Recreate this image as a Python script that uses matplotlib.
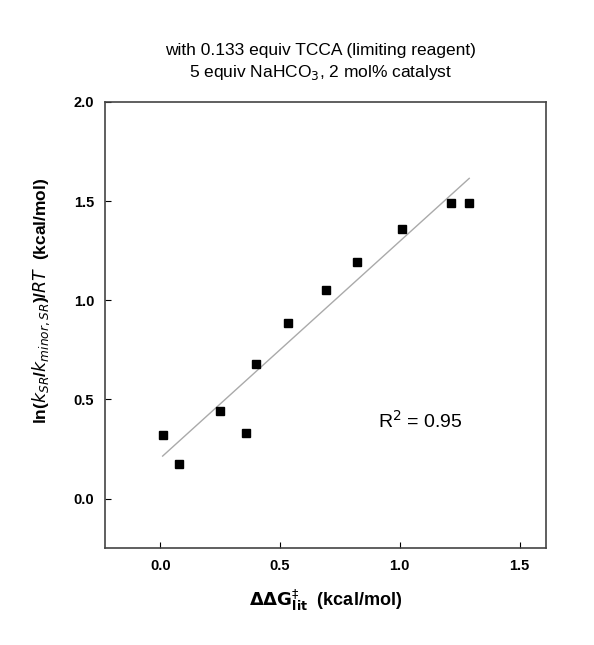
import matplotlib.pyplot as plt
import numpy as np

plt.rcParams['font.family'] = ['Liberation Sans', 'DejaVu Sans']

# data
ddg_lit = [0.01, 0.08, 0.25, 0.36, 0.40, 0.535, 0.69, 0.82, 1.01, 1.215, 1.29]
ln_krel = [0.32, 0.175, 0.44, 0.33, 0.68, 0.885, 1.05, 1.195, 1.36, 1.49, 1.49]
x_ticks = [0.0, 0.5, 1.0, 1.5]
y_ticks = [0.0, 0.5, 1.0, 1.5, 2.0]
r_squared = 0.95

fig = plt.figure(figsize=(5.94, 6.45), dpi=100)
ax = fig.add_axes([0.177, 0.150, 0.742, 0.692])

# linear fit
slope, icpt = np.polyfit(ddg_lit, ln_krel, 1)
xf = np.array([min(ddg_lit), max(ddg_lit)])
ax.plot(xf, slope * xf + icpt + 0.01, color='#aaaaaa', lw=1.0, zorder=1)

ax.plot(ddg_lit, ln_krel, 's', color='black', ms=5.5, zorder=2)

ax.text(0.91, 0.39, 'R$^2$ = %.2f' % r_squared, fontsize=14, va='center')

ax.set_xlim(-0.23, 1.61)
ax.set_ylim(-0.25, 2.0)
ax.set_xticks(x_ticks)
ax.set_xticklabels(['%.1f' % t for t in x_ticks])
ax.set_yticks(y_ticks)
ax.set_yticklabels(['%.1f' % t for t in y_ticks])
ax.tick_params(direction='in', length=4, labelsize=10.5, pad=8)
for lab in ax.get_xticklabels() + ax.get_yticklabels():
    lab.set_fontweight('bold')
for s in ax.spines.values():
    s.set_color('#444444')
    s.set_linewidth(1.2)

ax.set_xlabel(r'$\mathbf{\Delta\Delta} \mathit{\mathbf{G}}^{\ddagger}_{\mathbf{lit}}$  (kcal/mol)',
              fontsize=13, fontweight='bold', labelpad=10)
ax.set_ylabel(r'ln($k_{SR}$/$k_{minor,SR}$)/$RT$  (kcal/mol)', fontsize=12.5,
              fontweight='bold')
ax.yaxis.set_label_coords(-0.12, 0.555)

fig.text(0.54, 0.922, 'with 0.133 equiv TCCA (limiting reagent)', ha='center', va='center', fontsize=12.5)
fig.text(0.54, 0.888, '5 equiv NaHCO$_3$, 2 mol% catalyst', ha='center', va='center', fontsize=12.5)

fig.savefig('out.png', dpi=100)
